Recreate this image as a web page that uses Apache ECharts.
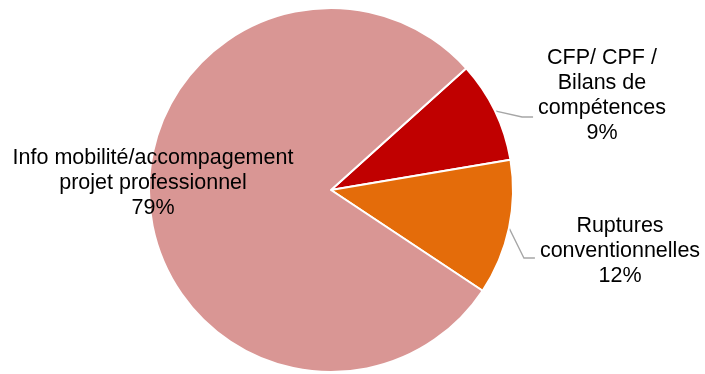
<!DOCTYPE html>
<html>
<head>
<meta charset="utf-8">
<script src="https://cdn.jsdelivr.net/npm/echarts@6/dist/echarts.min.js"></script>
<style>
  html, body { margin: 0; padding: 0; background: #fff; }
  #chart { width: 705px; height: 374px; }
</style>
</head>
<body>
<div id="chart"></div>
<script>
// Répartition des demandes par motif (en %)
const categories = [
  'CFP/ CPF /\nBilans de\ncompétences',
  'Ruptures\nconventionnelles',
  'Info mobilité/accompagement\nprojet professionnel'
];
const shares = [9, 12, 79];
const colors = ['#C00000', '#E46C0A', '#D99694'];

// Where each label block is centred (px)
const labelCentres = [
  { x: 602, y: 96 },
  { x: 620, y: 251 },
  { x: 153, y: 183 }
];
// Leader line shape: vertical offset of the final horizontal run from the
// label centre, and the length of that run
const leaders = [
  { dy: 21, run: 11 },
  { dy: 7, run: 11 },
  null
];

const chart = echarts.init(document.getElementById('chart'), null, { renderer: 'canvas' });

chart.setOption({
  animation: false,
  series: [{
    type: 'pie',
    center: [331, 190],
    radius: 182,
    startAngle: 42,
    clockwise: true,
    avoidLabelOverlap: false,
    itemStyle: { borderColor: '#ffffff', borderWidth: 2 },
    label: {
      show: true,
      position: 'outside',
      formatter: '{b}\n{c}%',
      fontFamily: 'Liberation Sans, Arial, sans-serif',
      fontSize: 21.5,
      lineHeight: 25,
      color: '#000000',
      align: 'center'
    },
    labelLine: {
      show: true,
      length: 22,
      length2: 12,
      lineStyle: { color: '#A6A6A6', width: 1.3 }
    },
    labelLayout: function (p) {
      const c = labelCentres[p.dataIndex];
      const out = { x: c.x, y: c.y, align: 'center', verticalAlign: 'middle' };
      const lead = leaders[p.dataIndex];
      if (lead && p.labelLinePoints) {
        const start = p.labelLinePoints[0];
        const endX = c.x - p.labelRect.width / 2 - 5;
        const endY = c.y + lead.dy;
        out.labelLinePoints = [start, [endX - lead.run, endY], [endX, endY]];
      }
      return out;
    },
    emphasis: { disabled: true },
    data: shares.map((v, i) => ({
      name: categories[i],
      value: v,
      itemStyle: { color: colors[i] },
      labelLine: { show: i < 2 }
    }))
  }]
});
</script>
</body>
</html>
